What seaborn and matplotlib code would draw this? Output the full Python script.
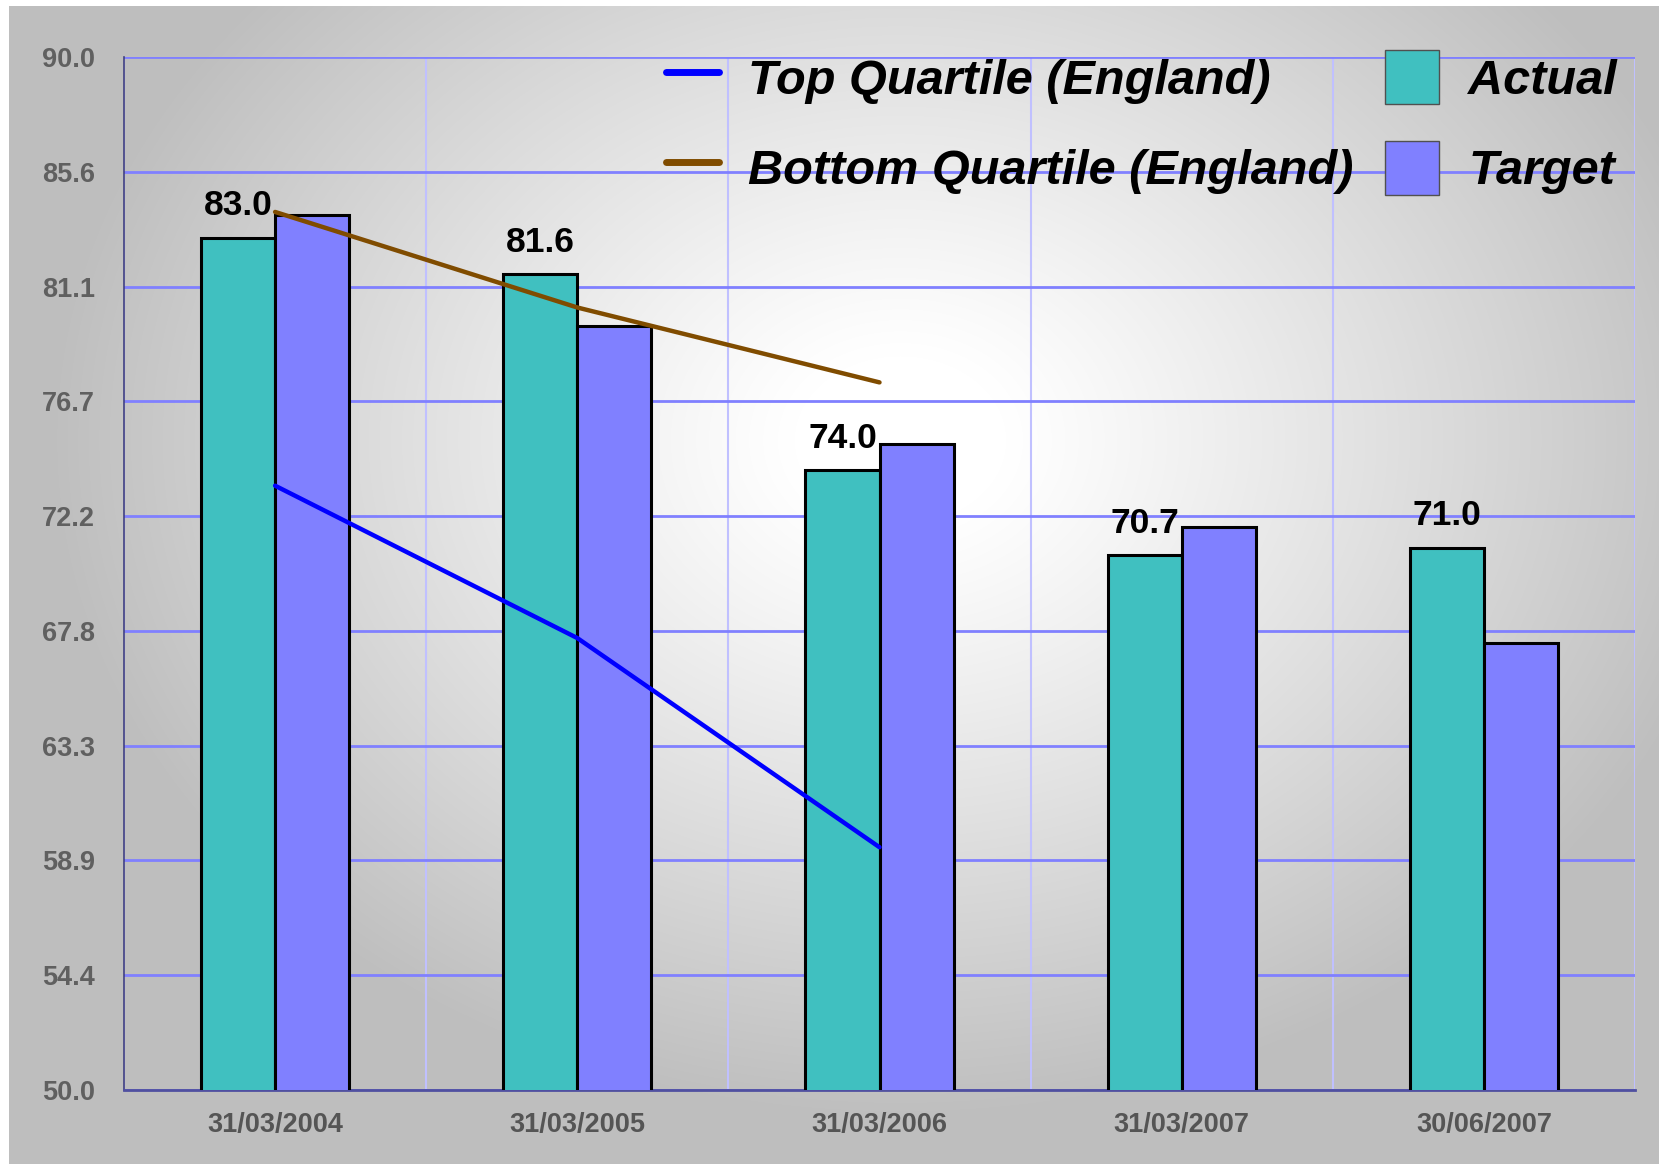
import numpy as np
import pandas as pd
import seaborn as sns
import matplotlib.pyplot as plt
from matplotlib.lines import Line2D
from matplotlib.patches import Patch

# chart data
dates = ['31/03/2004', '31/03/2005', '31/03/2006', '31/03/2007', '30/06/2007']
actual = [83.0, 81.6, 74.0, 70.7, 71.0]
target = [83.9, 79.6, 75.0, 71.8, 67.3]
top_quartile = [73.4, 67.5, 59.4]
bottom_quartile = [84.0, 80.3, 77.4]
y_ticks = np.linspace(50, 90, 10)

ACTUAL_C = '#40C0C0'
TARGET_C = '#8080FF'
TOP_C = '#0000FF'
BOTTOM_C = '#804C00'

df = pd.DataFrame({
    'date': dates * 2,
    'value': actual + target,
    'series': ['Actual'] * len(dates) + ['Target'] * len(dates),
})

sns.set_style('white')
plt.rcParams['font.family'] = ['Liberation Sans', 'DejaVu Sans']
plt.rcParams['text.color'] = 'black'

W, H = 1659, 1167
fig = plt.figure(figsize=(W / 100, H / 100), dpi=100)

# background panel with radial gradient
bg = fig.add_axes([0, 0, 1, 1])
bg.set_xlim(0, W)
bg.set_ylim(H, 0)
bg.axis('off')
xx, yy = np.meshgrid(np.arange(W), np.arange(H))
d = np.sqrt(((xx - 900) / 880.0) ** 2 + ((yy - 440) / 700.0) ** 2)
shade = 255 - 65 * np.clip((d - 0.12) / 0.85, 0, 1) ** 1.1
img = np.dstack([shade] * 3) / 255.0
img[:6, :, :] = 1.0
img[:, :9, :] = 1.0
img[1164:, :, :] = 1.0
bg.imshow(img, extent=(0, W, H, 0), aspect='auto', zorder=0)

ax = fig.add_axes([124 / W, 1 - 1090 / H, (1635 - 124) / W, (1090 - 57) / H])
ax.patch.set_alpha(0)

sns.barplot(data=df, x='date', y='value', hue='series',
            palette={'Actual': ACTUAL_C, 'Target': TARGET_C}, saturation=1,
            width=0.49, edgecolor='black', linewidth=2.2,
            legend=False, ax=ax, zorder=3)

pos = np.arange(len(top_quartile))
sns.lineplot(x=pos, y=top_quartile, color=TOP_C, lw=3.2, ax=ax, zorder=4)
sns.lineplot(x=pos, y=bottom_quartile, color=BOTTOM_C, lw=3.2, ax=ax, zorder=4)

ax.bar_label(ax.containers[0], fmt='%.1f', padding=11, fontsize=25.5,
             fontweight='bold', color='black', zorder=5)

ax.set_xlim(-0.5, len(dates) - 0.5)
ax.set_ylim(50, 90)
ax.set_yticks(y_ticks)
ax.set_yticklabels([f'{v:.1f}' for v in y_ticks])
ax.set_xticks(np.arange(len(dates)))
ax.set_xticklabels(dates)
ax.set_xticks(np.arange(len(dates) + 1) - 0.5, minor=True)
ax.set_xlabel('')
ax.set_ylabel('')

ax.tick_params(axis='x', which='major', length=0, pad=16, labelsize=19.5,
               labelcolor='#555555')
ax.tick_params(axis='x', which='minor', length=23, width=1, color='black',
               direction='out')
ax.tick_params(axis='y', length=14, width=1, color='black', direction='inout',
               labelsize=19.5, labelcolor='#606060', pad=14)
for lab in ax.get_xticklabels() + ax.get_yticklabels():
    lab.set_fontweight('bold')

ax.grid(axis='y', which='major', color='#8080FF', lw=2)
ax.grid(axis='x', which='minor', color='#C0C0FF', lw=1.5)
ax.grid(axis='x', which='major', visible=False)
ax.set_axisbelow(True)

for s in ['top', 'right']:
    ax.spines[s].set_visible(False)
ax.spines['left'].set_color('#404080')
ax.spines['left'].set_linewidth(1.2)
ax.spines['bottom'].set_color('#5050A0')
ax.spines['bottom'].set_linewidth(2)

handles = [
    Line2D([], [], color=TOP_C, lw=5),
    Line2D([], [], color=BOTTOM_C, lw=5),
    Patch(facecolor=ACTUAL_C, edgecolor='#505050', lw=1),
    Patch(facecolor=TARGET_C, edgecolor='#505050', lw=1),
]
labels = ['Top Quartile (England)', 'Bottom Quartile (England)', 'Actual', 'Target']
leg = ax.legend(handles, labels, ncol=2, loc='upper right',
                bbox_to_anchor=(1.004, 1.030), frameon=False,
                prop={'size': 35, 'weight': 'bold', 'style': 'italic'},
                handlelength=1.1, handleheight=1.33, handletextpad=0.6,
                columnspacing=0.65, labelspacing=0.75, borderpad=0)
for t in leg.get_texts():
    t.set_color('black')

fig.savefig('out.png', dpi=100)
